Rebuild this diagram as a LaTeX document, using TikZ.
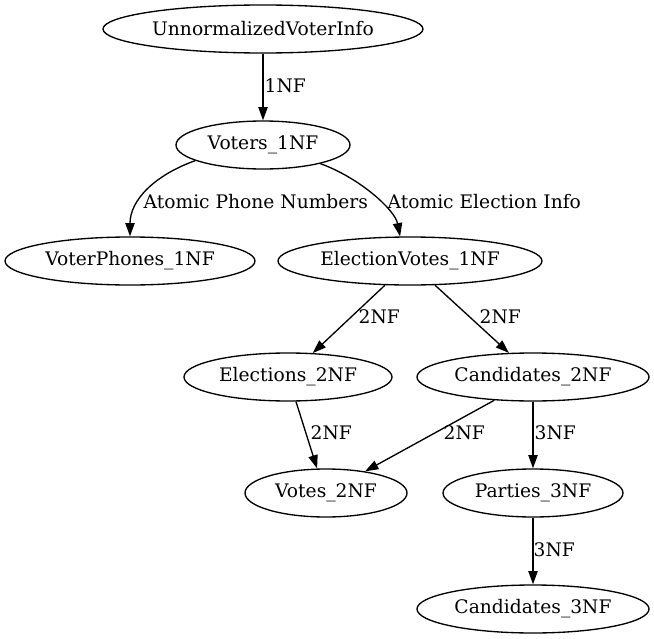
\documentclass[tikz,border=0pt]{standalone}
\usepackage{fontspec}
\setmainfont{DejaVu Serif}
\usetikzlibrary{shapes.geometric,arrows.meta}

\tikzset{every picture/.style={line width=1pt}}
\tikzset{
  relation/.style={draw, ellipse, inner sep=0pt, minimum height=36pt, font=\fontsize{14}{17}\selectfont},
  nflabel/.style={anchor=west, inner sep=0pt, font=\fontsize{14}{17}\selectfont},
  normal/.style={-{Triangle[length=10pt,width=7pt]}}
}

\begin{document}
\begin{tikzpicture}[x=0.75pt,y=0.75pt,yscale=-1,xscale=1]
\useasboundingbox (0,0) rectangle (654,639);

%Shape: Ellipse
\node [relation, minimum width=240pt] (unnorm) at (263,29) {\makebox[0pt]{UnnormalizedVoterInfo}};
\node [relation, minimum width=130.5pt] (voters) at (263,145) {\makebox[0pt]{Voters\_1NF}};
\node [relation, minimum width=187.5pt] (phones) at (130,261) {\makebox[0pt]{VoterPhones\_1NF}};
\node [relation, minimum width=198pt] (evotes) at (410,261) {\makebox[0pt]{ElectionVotes\_1NF}};
\node [relation, minimum width=156pt] (elect) at (288,377) {\makebox[0pt]{Elections\_2NF}};
\node [relation, minimum width=174pt] (cand) at (533,377) {\makebox[0pt]{Candidates\_2NF}};
\node [relation, minimum width=121.5pt] (votes) at (326,493) {\makebox[0pt]{Votes\_2NF}};
\node [relation, minimum width=135pt] (parties) at (533,493) {\makebox[0pt]{Parties\_3NF}};
\node [relation, minimum width=174pt] (candthree) at (533,609) {\makebox[0pt]{Candidates\_3NF}};

%Straight Lines
\draw [normal] (unnorm.south) -- (voters.north);
\draw [normal] (evotes.224) -- (elect.44);
\draw [normal] (evotes.316) -- (cand.135);
\draw [normal] (elect.288) -- (votes.110);
\draw [normal] (cand.211.6) -- (votes.29.6);
\draw [normal] (cand.south) -- (parties.north);
\draw [normal] (parties.south) -- (candthree.north);
%Curve Lines
\draw [normal] (voters.193) .. controls (155,175) and (130,200) .. (phones.north);
\draw [normal] (voters.342) .. controls (360,178) and (395,210) .. (evotes.112);

% Text Node
\node [nflabel] (lunnorm) at (264,86) {1NF};
% Text Node
\node [nflabel] (lphones) at (143,202) {Atomic Phone Numbers};
% Text Node
\node [nflabel] (levotes) at (387,202) {Atomic Election Info};
% Text Node
\node [nflabel] (lelect) at (358,317) {2NF};
% Text Node
\node [nflabel] (lcand) at (479,317) {2NF};
% Text Node
\node [nflabel] (lvotesa) at (310,433) {2NF};
% Text Node
\node [nflabel] (lvotesb) at (443,433) {2NF};
% Text Node
\node [nflabel] (lparties) at (534,433) {3NF};
% Text Node
\node [nflabel] (lcandthree) at (533,550) {3NF};

\end{tikzpicture}
\end{document}
